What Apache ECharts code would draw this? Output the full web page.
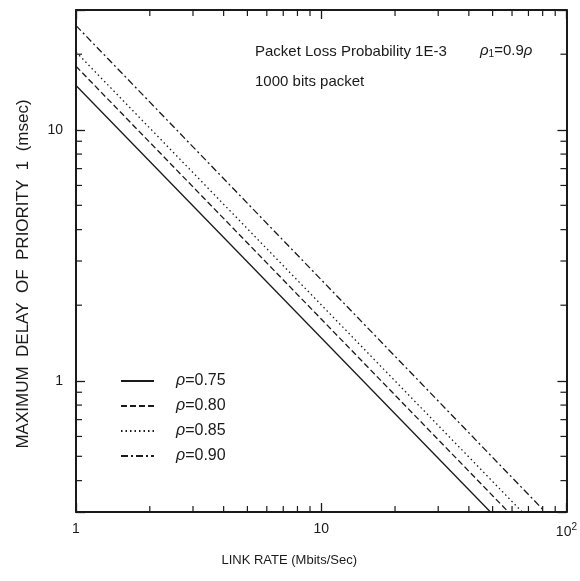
<!DOCTYPE html>
<html>
<head>
<meta charset="utf-8">
<script src="https://cdn.jsdelivr.net/npm/echarts@6/dist/echarts.min.js"></script>
<style>
  html, body { margin: 0; padding: 0; background: #fff; }
  #main { width: 580px; height: 581px; }
</style>
</head>
<body>
<div id="main"></div>
<script>
// 数据
var seriesNames = ['ρ=0.75', 'ρ=0.80', 'ρ=0.85', 'ρ=0.90'];
var rho075 = [[1, 15.0], [49, 0.3]];
var rho080 = [[1, 17.9], [58, 0.3]];
var rho085 = [[1, 20.4], [66, 0.3]];
var rho090 = [[1, 26.0], [82, 0.3]];
var xRange = [1, 100];
var yRange = [0.3, 30];
var xMinorTicks = [2, 3, 4, 5, 6, 7, 8, 9, 20, 30, 40, 50, 60, 70, 80, 90];
var yMinorTicks = [0.4, 0.5, 0.6, 0.7, 0.8, 0.9, 2, 3, 4, 5, 6, 7, 8, 9, 20];

var ink = '#1a1a1a';
var font = '"Liberation Sans", Arial, sans-serif';
var dashTypes = ['solid', [6, 3], [1.5, 3], [7, 3, 2, 3]];
var lineData = [rho075, rho080, rho085, rho090];

function isPow10(v) {
    var l = Math.log(v) / Math.LN10;
    return Math.abs(l - Math.round(l)) < 1e-6;
}

var series = [];
for (var i = 0; i < 4; i++) {
    series.push({
        name: seriesNames[i],
        type: 'line',
        symbol: 'none',
        silent: true,
        lineStyle: { color: ink, width: 1.3, type: dashTypes[i] },
        itemStyle: { color: ink },
        data: lineData[i]
    });
}

// 次刻度（上下、左右）
function tickLine(x1, y1, x2, y2) {
    return { type: 'line', shape: { x1: x1, y1: y1, x2: x2, y2: y2 }, style: { stroke: ink, lineWidth: 1.2 } };
}
series.push({
    type: 'custom',
    silent: true,
    clip: false,
    data: xMinorTicks.map(function (v) { return [v, yRange[0]]; }),
    renderItem: function (params, api) {
        var v = api.value(0);
        var b = api.coord([v, yRange[0]]);
        var t = api.coord([v, yRange[1]]);
        return { type: 'group', children: [
            tickLine(b[0], b[1], b[0], b[1] - 6),
            tickLine(t[0], t[1], t[0], t[1] + 6)
        ] };
    }
});
series.push({
    type: 'custom',
    silent: true,
    clip: false,
    data: yMinorTicks.map(function (v) { return [xRange[0], v]; }),
    renderItem: function (params, api) {
        var v = api.value(1);
        var l = api.coord([xRange[0], v]);
        var r = api.coord([xRange[1], v]);
        return { type: 'group', children: [
            tickLine(l[0], l[1], l[0] + 6, l[1]),
            tickLine(r[0], r[1], r[0] - 6, r[1])
        ] };
    }
});

var axisLineStyle = { show: true, lineStyle: { color: ink, width: 2 } };
var tickStyle = { show: true, inside: true, length: 9, lineStyle: { color: ink, width: 1.3 } };

var dom = echarts.init(document.getElementById('main'));
var option = {
    backgroundColor: '#ffffff',
    animation: false,
    grid: { left: 76, right: 8, top: 10, bottom: 69 },
    legend: {
        data: seriesNames,
        orient: 'vertical',
        left: 115,
        top: 368,
        itemWidth: 33,
        itemHeight: 14,
        itemGap: 9,
        selectedMode: false,
        itemStyle: { color: 'rgba(0,0,0,0)', borderWidth: 0 },
        formatter: function (name) { return '{i|ρ}' + name.slice(1); },
        textStyle: {
            color: ink, fontSize: 16, fontFamily: font,
            padding: [0, 0, 0, 17],
            rich: { i: { fontStyle: 'italic', fontSize: 16, fontFamily: font, color: ink } }
        }
    },
    graphic: [
        {
            type: 'text', left: 255, top: 44,
            style: { text: 'Packet Loss Probability 1E-3', fill: ink, font: '15px ' + font }
        },
        {
            type: 'text', left: 480, top: 43,
            style: {
                text: '{i|ρ}{s|1}=0.9{i|ρ}',
                fill: ink, font: '15px ' + font,
                rich: {
                    i: { fontStyle: 'italic', fontSize: 15, fontFamily: font, fill: ink },
                    s: { fontSize: 10, fontFamily: font, fill: ink, padding: [8, 0, 0, 0] }
                }
            }
        },
        {
            type: 'text', left: 255, top: 74,
            style: { text: '1000 bits packet', fill: ink, font: '15px ' + font }
        }
    ],
    xAxis: [{
        type: 'log',
        logBase: 10,
        min: xRange[0],
        max: xRange[1],
        position: 'bottom',
        name: 'LINK RATE (Mbits/Sec)',
        nameLocation: 'middle',
        nameGap: 42,
        nameTextStyle: { color: ink, fontSize: 13, fontFamily: font, padding: [0, 64, 0, 0] },
        axisLine: axisLineStyle,
        axisTick: tickStyle,
        splitLine: { show: false },
        axisLabel: {
            color: ink, fontSize: 14, fontFamily: font, margin: 10,
            showMinLabel: true, showMaxLabel: true,
            formatter: function (v) {
                if (!isPow10(v)) return '';
                if (Math.abs(v - 100) < 1e-6) return '10{sup|2}';
                return String(Math.round(v));
            },
            rich: { sup: { fontSize: 10, fontFamily: font, color: ink, padding: [0, 0, 10, 0] } }
        }
    }, {
        type: 'log',
        logBase: 10,
        min: xRange[0],
        max: xRange[1],
        position: 'top',
        axisLine: axisLineStyle,
        axisTick: tickStyle,
        axisLabel: { show: false },
        splitLine: { show: false }
    }],
    yAxis: [{
        type: 'log',
        logBase: 10,
        min: yRange[0],
        max: yRange[1],
        position: 'left',
        name: 'MAXIMUM  DELAY  OF  PRIORITY  1  (msec)',
        nameLocation: 'middle',
        nameGap: 44,
        nameTextStyle: { color: ink, fontSize: 17, fontFamily: font, padding: [0, 26, 0, 0] },
        axisLine: axisLineStyle,
        axisTick: tickStyle,
        splitLine: { show: false },
        axisLabel: {
            color: ink, fontSize: 14, fontFamily: font, margin: 13,
            formatter: function (v) {
                return isPow10(v) ? String(Math.round(v)) : '';
            }
        }
    }, {
        type: 'log',
        logBase: 10,
        min: yRange[0],
        max: yRange[1],
        position: 'right',
        axisLine: axisLineStyle,
        axisTick: tickStyle,
        axisLabel: { show: false },
        splitLine: { show: false }
    }],
    series: series
};
dom.setOption(option);
</script>
</body>
</html>
